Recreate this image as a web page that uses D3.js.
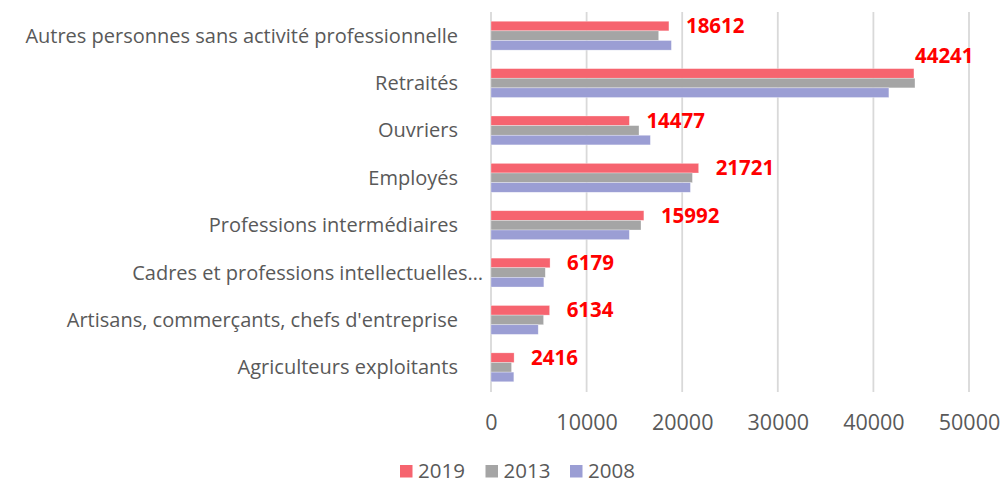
<!DOCTYPE html>
<html>
<head>
<meta charset="utf-8">
<script src="https://cdn.jsdelivr.net/npm/d3@7"></script>
<style>
  body { margin: 0; background: #fff; }
  svg { font-family: "Open Sans", sans-serif; }
</style>
</head>
<body>
<div id="app"></div>
<script>
// categories, top to bottom
const categories = [
  "Autres personnes sans activité professionnelle",
  "Retraités",
  "Ouvriers",
  "Employés",
  "Professions intermédiaires",
  "Cadres et professions intellectuelles…",
  "Artisans, commerçants, chefs d'entreprise",
  "Agriculteurs exploitants"
];
const years = ["2019", "2013", "2008"];
const values2019 = [18612, 44241, 14477, 21721, 15992, 6179, 6134, 2416];
const values2013 = [17540, 44350, 15480, 21070, 15690, 5680, 5500, 2150];
const values2008 = [18870, 41620, 16670, 20860, 14470, 5530, 4940, 2390];
const xTicks = [0, 10000, 20000, 30000, 40000, 50000];
const colors = ["#F6646F", "#A5A5A5", "#9B9ED4"];

const W = 1002, H = 483;
const margin = {top: 12, right: 33, bottom: 92, left: 491},
  width = W - margin.left - margin.right,
  height = H - margin.top - margin.bottom;

const svg = d3.select("#app")
  .append("svg")
    .attr("width", W)
    .attr("height", H);

const g = svg.append("g")
  .attr("transform", "translate(" + margin.left + "," + margin.top + ")");

const x = d3.scaleLinear()
  .domain([0, 50000])
  .range([0, width]);

const y = d3.scaleBand()
  .domain(categories)
  .range([0, height])
  .paddingInner(0.39)
  .paddingOuter(0.195);

const ySub = d3.scaleBand()
  .domain(years)
  .range([0, y.bandwidth()]);

const color = d3.scaleOrdinal().domain(years).range(colors);

// gridlines
g.append("g")
  .selectAll("line")
  .data(xTicks)
  .enter()
  .append("line")
    .attr("x1", d => x(d)).attr("x2", d => x(d))
    .attr("y1", 0).attr("y2", height + 1)
    .attr("stroke", "#D9D9D9")
    .attr("stroke-width", 1.8);

// bars
const series = [values2019, values2013, values2008];
const rows = categories.map((c, i) => ({
  cat: c,
  vals: years.map((yr, k) => ({year: yr, value: series[k][i]}))
}));

const groups = g.selectAll(".grp")
  .data(rows)
  .enter()
  .append("g")
    .attr("transform", d => "translate(0," + y(d.cat) + ")");

groups.selectAll("rect")
  .data(d => d.vals)
  .enter()
  .append("rect")
    .attr("x", x(0))
    .attr("y", d => ySub(d.year))
    .attr("width", d => x(d.value) - x(0))
    .attr("height", ySub.bandwidth())
    .attr("fill", d => color(d.year))
    .attr("stroke", "#ffffff")
    .attr("stroke-opacity", 0.5)
    .attr("stroke-width", 0.6);

// data labels for 2019 (moved above the bar when it would overflow)
groups.append("text")
  .each(function(d) {
    const v = d.vals[0].value;
    const t = d3.select(this).text(v);
    const tooLong = x(v) + 17 + 60 > width;
    if (tooLong) {
      t.attr("x", x(v) + 1).attr("y", ySub("2019") - 6);
    } else {
      t.attr("x", x(v) + 17).attr("y", ySub("2019") + ySub.bandwidth() / 2 + 7);
    }
  })
  .attr("fill", "#FF0000")
  .attr("font-weight", "bold")
  .attr("font-size", 20.5);

// category labels
g.append("g")
  .selectAll("text")
  .data(categories)
  .enter()
  .append("text")
    .attr("x", d => d.endsWith("…") ? -8 : -33)
    .attr("y", d => y(d) + y.bandwidth() / 2 + 7)
    .attr("text-anchor", "end")
    .attr("fill", "#595959")
    .attr("font-size", 20)
    .text(d => d);

// x axis
const xAxis = g.append("g")
  .attr("transform", "translate(0," + height + ")")
  .call(d3.axisBottom(x).tickValues(xTicks).tickSize(0).tickPadding(24).tickFormat(d3.format("d")));
xAxis.select(".domain").remove();
xAxis.selectAll("text")
  .attr("fill", "#595959")
  .attr("font-size", 21.5)
  .attr("font-family", "'Open Sans', sans-serif");

// legend
const legendX = [400, 485.5, 570];
const legend = svg.append("g")
  .selectAll("g")
  .data(years)
  .enter()
  .append("g")
    .attr("transform", (d, i) => "translate(" + legendX[i] + ",465)");
legend.append("rect")
  .attr("width", 12.5).attr("height", 12.5)
  .attr("fill", d => color(d));
legend.append("text")
  .attr("x", 18).attr("y", 12.5)
  .attr("fill", "#595959")
  .attr("font-size", 20.5)
  .text(d => d);
</script>
</body>
</html>
